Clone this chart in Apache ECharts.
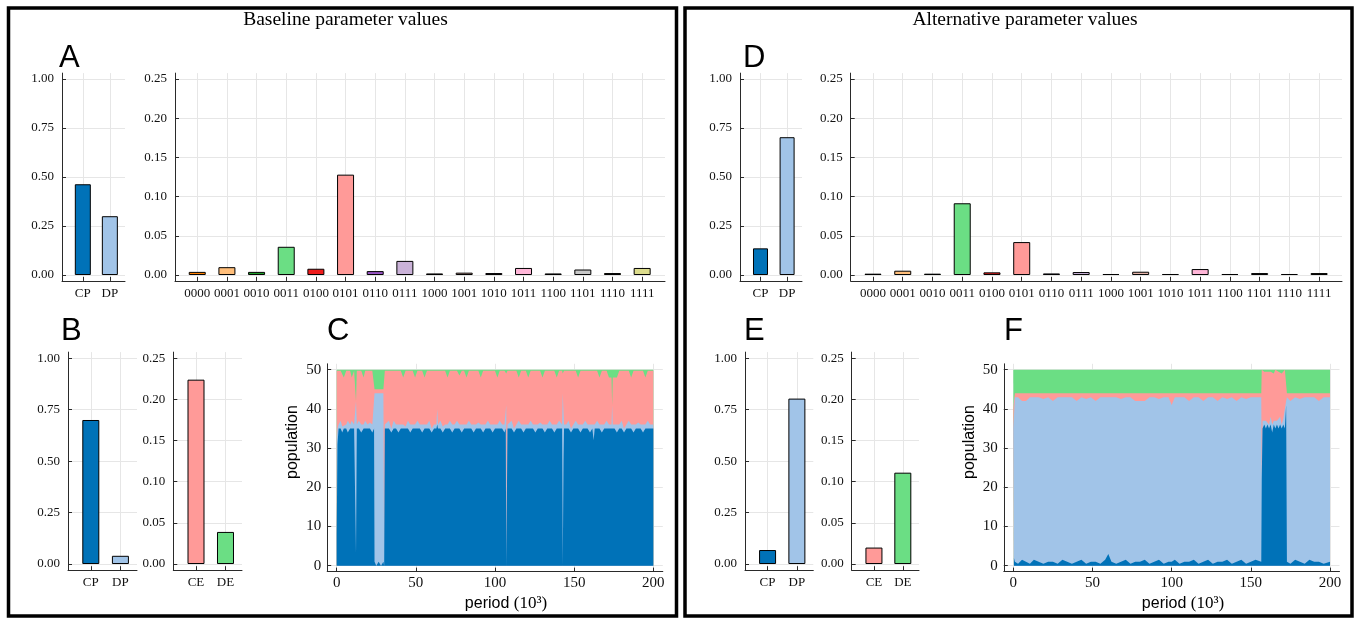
<!DOCTYPE html>
<html><head><meta charset="utf-8">
<script src="https://cdn.jsdelivr.net/npm/echarts@6/dist/echarts.min.js"></script>
<style>html,body{margin:0;padding:0;background:#fff}#c{width:1361px;height:620px}</style>
</head><body><div id="c"></div>
<script>
// ---------- data ----------
const playerTypes = ['CP', 'DP'];
const errorTypes = ['CE', 'DE'];
const strategies = ['0000','0001','0010','0011','0100','0101','0110','0111','1000','1001','1010','1011','1100','1101','1110','1111'];
const probTicks = [0, 0.25, 0.5, 0.75, 1.0];
const freqTicks = [0, 0.05, 0.10, 0.15, 0.20, 0.25];
const popTicks = [0, 10, 20, 30, 40, 50];
const periodTicks = [0, 50, 100, 150, 200];

// Baseline (left)
const basePlayerShare = [0.463, 0.300];
const baseStrategyFreq = [0.004, 0.010, 0.004, 0.036, 0.008, 0.128, 0.005, 0.018, 0.002, 0.003, 0.0025, 0.009, 0.002, 0.007, 0.0025, 0.009];
const baseActionShare = [0.700, 0.040];
const baseErrorShare = [0.224, 0.039];
// Alternative (right)
const altPlayerShare = [0.136, 0.703];
const altStrategyFreq = [0.0017, 0.0055, 0.0017, 0.0915, 0.0034, 0.042, 0.002, 0.0038, 0.0013, 0.0042, 0.0013, 0.0076, 0.0013, 0.0025, 0.0013, 0.0025];
const altActionShare = [0.068, 0.804];
const altErrorShare = [0.020, 0.111];

// Panel C population over time (periods in 10^3)
const cPeriod = [0,0.5,1.2,2.5,3.5,4.5,6,7,8.5,9.5, 11,11.8,12.2,12.7,14,15.5,17,18,19.5,21, 22.5,23.6,23.9,25,26.5,28,29.5,30,30.4,31.5,
 33,34.5,36,37.5,39,40.5,42,43.5,45,46.5, 48,49.5,51,52.5,54,55.5,57,58.5,60,61.5, 63,63.5,64,65.5,67,68.5,70,71.5,73,74.5,
 76,77.5,79,80.5,82,83.5,85,86.5,88,89.5, 91,92.5,94,95.5,97,98.5,100,101.5,103,104.5, 106,106.8,107.1,107.5,107.9,109,110.5,112,113.5,115,
 116.5,118,119.5,121,122.5,124,125.5,127,128.5,130, 131.5,133,134.5,136,137.5,139,140.5,142.4,142.8,143.3, 143.6,145,146.5,148,149.5,151,152.5,154,155.5,157,
 158.5,160,161.5,162.3,163,164.5,166,167.5,169,170.5, 172,173.6,174,174.4,175.5,177,178.5,180,181.5,183, 184.5,186,187.5,189,190.5,192,193.5,195,196.5,198, 200];
const cCP = [8,31,35,35,34,35,35,34,35,35, 35,35,3,35,35,34,35,35,35,35, 34,35,1,0,1,0,1,0,35,35,
 35,34,35,35,34,35,35,35,35,34, 35,35,35,35,34,35,35,35,34,35, 35,36,35,35,34,35,35,35,34,35,
 35,35,34,35,35,35,35,34,35,35, 35,34,35,35,35,34,35,35,35,35, 34,35,0,0,35,35,35,34,35,35,
 35,34,35,35,35,35,34,35,35,35, 34,35,35,35,34,35,35,35,0,27, 35,35,35,34,35,35,35,34,35,35,
 35,34,35,32,35,35,35,34,35,35, 35,35,35,35,35,34,35,35,34,35, 35,35,34,35,35,35,34,35,35,35, 35];
const cDP = [24,4,1,2,1.5,1,1,3,1,2, 1,1.5,39,1,2,2,1,2,1,1.5, 2,1,43,44,43,44,43,1,1,1,
 2,1,2,1,2,1,1,0.5,2,2, 1,1,2,1,2,1,1,2,1,1, 1,4,1,2,1.5,1,1,2,2,1,
 2,1,2,1,1,2,1,2,1,1.5, 1,2,1,2,1,2,1,1,2,1, 2,1,41,1,1,1,2,1,1,2,
 1,2,1,1,2,1,2,1,1.5,1, 2,1,2,1,2,1,2,1,44,17, 1,1,2,1,1,2,1,2,1,2,
 1,2,1,4,1,2,1,2,1,2, 1,1,6,1,1,2,1,2,1,1, 2,1,2,1,1.5,1,2,1,2,1, 1];
const cCE = [17.7,14.7,13.7,12.7,14.2,12,13.7,12.7,13.7,11, 13.7,13.2,0,13.7,12.7,13.7,12,12.7,13.7,13.2, 13.7,13.7,1,1,1,1,1,44,13.7,13.7,
 12.7,14.7,12.7,13.7,13.7,13.7,12,14.2,12.7,13.7, 13.7,12,12.7,13.7,13.7,12,13.7,12.7,14.7,13.7, 13.7,9.7,13.7,12.7,14.2,13.7,12,12.7,13.7,13.7,
 12.7,12.5,13.7,13.7,12,12.7,13.7,13.7,13.7,13.2, 12,13.7,13.7,12.7,13.7,13.7,13.7,12,12.7,13.7, 13.7,13.7,8,48,13.7,13.7,12.7,14.7,13.7,11,
 13.7,13.7,13.7,12,12.7,13.7,13.7,13.7,13.2,12, 13.7,13.7,12.7,13.7,13.7,12,12.7,13.7,5,5, 13.7,13.7,12.7,14.7,13.7,12.7,12,13.7,13.7,12.7,
 13.7,13.7,13.7,13.7,13.7,12.7,12,13.7,13.7,12.7, 12,12,0,12,11.5,12,13.7,12.7,14.7,13.7, 12.7,12,13.7,13.7,13.2,13.7,13.7,12,12.7,13.7, 13.7];
const cDE = [0.3,0.3,0.3,0.3,0.3,2,0.3,0.3,0.3,2, 0.3,0.3,8,0.3,0.3,0.3,2,0.3,0.3,0.3, 0.3,0.3,5,5,5,5,5,5,0.3,0.3,
 0.3,0.3,0.3,0.3,0.3,0.3,2,0.3,0.3,0.3, 0.3,2,0.3,0.3,0.3,2,0.3,0.3,0.3,0.3, 0.3,0.3,0.3,0.3,0.3,0.3,2,0.3,0.3,0.3,
 0.3,1.5,0.3,0.3,2,0.3,0.3,0.3,0.3,0.3, 2,0.3,0.3,0.3,0.3,0.3,0.3,2,0.3,0.3, 0.3,0.3,1,1,0.3,0.3,0.3,0.3,0.3,2,
 0.3,0.3,0.3,2,0.3,0.3,0.3,0.3,0.3,2, 0.3,0.3,0.3,0.3,0.3,2,0.3,0.3,1,1, 0.3,0.3,0.3,0.3,0.3,0.3,2,0.3,0.3,0.3,
 0.3,0.3,0.3,0.3,0.3,0.3,2,0.3,0.3,0.3, 2,2,9,2,2.5,2,0.3,0.3,0.3,0.3, 0.3,2,0.3,0.3,0.3,0.3,0.3,2,0.3,0.3, 0.3];

// Panel F population over time
const fPeriod = [0,0.4,1,3,5.5,8,10.5,13,16,19, 22,25,28,31,34,37,40,43,46,49, 52,55,58,60,62,65,68,71,74,77,
 80,83,86,89,92,95,98,100,102,105, 108,111,114,117,120,123,126,129,132,135, 138,141,144,147,150,153,156.6,156.9,157.4,158.5,
 159.5,160.5,161.5,162.5,163.5,164.5,165.5,166.5,167.5,168.5, 169.5,170.5,171.5,172.3,172.8,175,178,181,184,187, 190,193,196,200];
const fCP = [20,2,1,0.5,1.5,1,0.5,1.5,1,0.5, 1,1,0.5,1.5,1,0.5,1,1.5,0.5,1, 1,0.5,1.5,3,1,0.5,1,1.5,0.5,1,
 1,1.5,0.5,1,1.5,0.5,1,1,1.5,0.5, 1,1,1.5,0.5,1,1.5,0.5,1,1,1.5, 0.5,1,1.5,0.5,1,1.5,1,22,35,36,
 35,36,35,36,34,36,35,36,35,36, 35,36,35,41,1,0.5,1.5,1,0.5,1.5, 1,1,0.5,1];
const fDP = [15,36,42,42.5,40.5,41,42.5,41.5,42,42, 42,41,42.5,41.5,42,42.5,41,41.5,42,42, 41,42.5,41.5,40,42,42.5,41.5,41.5,42.5,41,
 41,40.5,42.5,42,41,42.5,42,40,41.5,42.5, 42,41,41.5,42.5,41,41.5,42.5,41,42,41, 42.5,41,41.5,42,42,41.5,42,1,2,1,
 2,1.5,1,2,2,1,2,1,1.5,2, 1,1.5,2,1,42,41.5,41.5,41.5,42.5,41.5, 42,41,42.5,42];
const fCE = [5,4,1,1,2,2,1,1,1,1.5, 1,2,1,1,1,1,2,1,1.5,1, 2,1,1,1,1,1,1.5,1,1,2,
 2,2,1,1,1.5,1,1,3,1,1, 1,2,1,1,2,1,1,2,1,1.5, 1,2,1,1.5,1,1,1,27,13,12.5,
 12,12,14,11.5,14,12,13,12.5,13,12, 13,12,13,8,1,2,1,1.5,1,1, 1,2,1,1];
const fDE = [10,8,6,6,6,6,6,6,6,6, 6,6,6,6,6,6,6,6,6,6, 6,6,6,6,6,6,6,6,6,6,
 6,6,6,6,6,6,6,6,6,6, 6,6,6,6,6,6,6,6,6,6, 6,6,6,6,6,6,6,0,0,0.5,
 1,0.5,0,0.5,0,1,0,0.5,0.5,0, 1,0.5,0,0,6,6,6,6,6,6, 6,6,6,6];

// ---------- styling ----------
const SERIF = 'Liberation Serif', SANS = 'Liberation Sans';
const AX = '#2a2a2a', GRIDC = '#e6e6e6', TXT = '#111';
const playerColors = ['#0072b8', '#a1c4e8'];
const errorColors = ['#ff9a98', '#6bde84'];
const strategyColors = ['#ff8000','#ffbe7a','#1e9e2a','#6bde84','#ee1c1c','#ff9a98','#9a56c6','#cab2d8',
  '#8c564b','#e5b3a8','#a0407e','#ffb6d8','#606060','#c8c8c8','#7a7a1e','#dcdc8c'];
const popColors = ['#0072b8', '#a1c4e8', '#ff9a98', '#6bde84'];

const grids = [], xAxes = [], yAxes = [], series = [];

function addGrid(left, top, width, height) {
  grids.push({left, top, width, height, containLabel: false, outerBoundsMode: 'none'});
  return grids.length - 1;
}
function axisCommon() {
  return {
    axisLine: {show: true, onZero: false, lineStyle: {color: AX, width: 1}},
    splitLine: {show: true, lineStyle: {color: GRIDC, width: 1}},
  };
}
function barPanel(left, top, width, height, cats, vals, colors, xmin, xmax, yTicks, ymin, ymax, bw) {
  const g = addGrid(left, top, width, height);
  const pos = cats.map((c, i) => i + 1);
  xAxes.push(Object.assign(axisCommon(), {
    type: 'value', gridIndex: g, min: xmin, max: xmax,
    axisTick: {show: true, inside: true, length: 4, customValues: pos, lineStyle: {color: AX}},
    axisLabel: {customValues: pos, formatter: v => cats[Math.round(v) - 1], fontFamily: SERIF, fontSize: 13, color: TXT, margin: 6, hideOverlap: false}
  }));
  yAxes.push(Object.assign(axisCommon(), {
    type: 'value', gridIndex: g, min: ymin, max: ymax,
    axisTick: {show: true, inside: true, length: 4, customValues: yTicks, lineStyle: {color: AX}},
    axisLabel: {customValues: yTicks, formatter: v => v.toFixed(2), fontFamily: SERIF, fontSize: 13, color: TXT, margin: 8, hideOverlap: false}
  }));
  series.push({
    type: 'bar', xAxisIndex: g, yAxisIndex: g, barWidth: bw, silent: true, animation: false,
    itemStyle: {borderColor: '#000', borderWidth: 1},
    data: vals.map((v, i) => ({value: [i + 1, v], itemStyle: {color: colors[i], borderColor: '#000', borderWidth: 1}}))
  });
}
function popPanel(left, top, width, height, period, layers) {
  const g = addGrid(left, top, width, height);
  xAxes.push(Object.assign(axisCommon(), {
    type: 'value', gridIndex: g, min: -6, max: 206,
    axisTick: {show: true, inside: true, length: 4, customValues: periodTicks, lineStyle: {color: AX}},
    axisLabel: {customValues: periodTicks, fontFamily: SERIF, fontSize: 15, color: TXT, margin: 4, hideOverlap: false}
  }));
  yAxes.push(Object.assign(axisCommon(), {
    type: 'value', gridIndex: g, min: -1.5, max: 51.5,
    axisTick: {show: true, inside: true, length: 4, customValues: popTicks, lineStyle: {color: AX}},
    axisLabel: {customValues: popTicks, fontFamily: SERIF, fontSize: 15, color: TXT, margin: 6, hideOverlap: false}
  }));
  // cumulative tops (stack CP, DP, CE, DE), drawn top layer first
  const tops = [];
  let acc = period.map(() => 0);
  layers.forEach(arr => { acc = acc.map((a, k) => a + arr[k]); tops.push(acc); });
  for (let L = tops.length - 1; L >= 0; L--) {
    series.push({
      type: 'line', xAxisIndex: g, yAxisIndex: g, silent: true, animation: false,
      symbol: 'none', showSymbol: false, sampling: 'none',
      lineStyle: {width: 0}, itemStyle: {color: popColors[L]},
      areaStyle: {color: popColors[L], opacity: 1},
      data: period.map((x, k) => [x, tops[L][k]])
    });
  }
}

// Baseline panels
barPanel(62, 73.1, 63, 207.8, playerTypes, basePlayerShare, playerColors, 0.23, 2.56, probTicks, -0.03, 1.03, 16);
barPanel(175, 73.1, 490, 207.8, strategies, baseStrategyFreq, strategyColors, 0.25, 16.77, freqTicks, -0.0075, 0.2575, 17);
barPanel(68, 352.1, 69, 218.1, playerTypes, baseActionShare, playerColors, 0.23, 2.56, probTicks, -0.03, 1.03, 17);
barPanel(173.3, 352.1, 68.7, 218.1, errorTypes, baseErrorShare, errorColors, 0.23, 2.56, freqTicks, -0.0075, 0.2575, 17);
popPanel(327.2, 363.8, 335.6, 207.8, cPeriod, [cCP, cDP, cCE, cDE]);
// Alternative panels
barPanel(740, 73.1, 62, 207.8, playerTypes, altPlayerShare, playerColors, 0.23, 2.56, probTicks, -0.03, 1.03, 15);
barPanel(850.7, 73.1, 491.3, 207.8, strategies, altStrategyFreq, strategyColors, 0.25, 16.77, freqTicks, -0.0075, 0.2575, 17);
barPanel(745, 352.1, 68.3, 218.1, playerTypes, altActionShare, playerColors, 0.23, 2.56, probTicks, -0.03, 1.03, 17);
barPanel(851.7, 352.1, 67.3, 218.1, errorTypes, altErrorShare, errorColors, 0.23, 2.56, freqTicks, -0.0075, 0.2575, 17);
popPanel(1003.8, 363.8, 335.7, 207.8, fPeriod, [fCP, fDP, fCE, fDE]);

function txt(text, x, y, font, extra) {
  return {
    type: 'text', x, y, silent: true,
    style: Object.assign({text, font, fill: '#000', align: 'center', verticalAlign: 'middle', textAlign: 'center', textVerticalAlign: 'middle'}, extra || {})
  };
}
const graphics = [
  {type: 'rect', silent: true, shape: {x: 8.5, y: 8, width: 668, height: 608}, style: {fill: 'none', stroke: '#000', lineWidth: 3.5}},
  {type: 'rect', silent: true, shape: {x: 685, y: 8, width: 667, height: 608}, style: {fill: 'none', stroke: '#000', lineWidth: 3.5}},
  txt('Baseline parameter values', 345.5, 20, '19.5px "Liberation Serif"'),
  txt('Alternative parameter values', 1025, 20, '19.5px "Liberation Serif"'),
  txt('A', 59, 58, '31px "Liberation Sans"', {align: 'left', textAlign: 'left'}),
  txt('B', 61, 331, '31px "Liberation Sans"', {align: 'left', textAlign: 'left'}),
  txt('C', 327, 331, '31px "Liberation Sans"', {align: 'left', textAlign: 'left'}),
  txt('D', 743, 58, '31px "Liberation Sans"', {align: 'left', textAlign: 'left'}),
  txt('E', 744, 331, '31px "Liberation Sans"', {align: 'left', textAlign: 'left'}),
  txt('F', 1004, 331, '31px "Liberation Sans"', {align: 'left', textAlign: 'left'}),
  Object.assign(txt('population', 293, 442, '16px "Liberation Sans"'), {rotation: Math.PI / 2}),
  Object.assign(txt('population', 970, 442, '16px "Liberation Sans"'), {rotation: Math.PI / 2}),
];
const periodLabel = (x) => ({
  type: 'text', x, y: 604, silent: true,
  style: {
    text: '{a|period }{b|(10³)}', align: 'center', verticalAlign: 'middle', textAlign: 'center', textVerticalAlign: 'middle',
    rich: {a: {fontFamily: SANS, fontSize: 16, fill: '#000', color: '#000'}, b: {fontFamily: SERIF, fontSize: 17, fill: '#000', color: '#000'}}
  }
});
graphics.push(periodLabel(506), periodLabel(1183));

const chart = echarts.init(document.getElementById('c'), null, {renderer: 'canvas', width: 1361, height: 620});
chart.setOption({
  backgroundColor: '#fff',
  animation: false,
  grid: grids, xAxis: xAxes, yAxis: yAxes, series: series,
  graphic: graphics
});
</script></body></html>
